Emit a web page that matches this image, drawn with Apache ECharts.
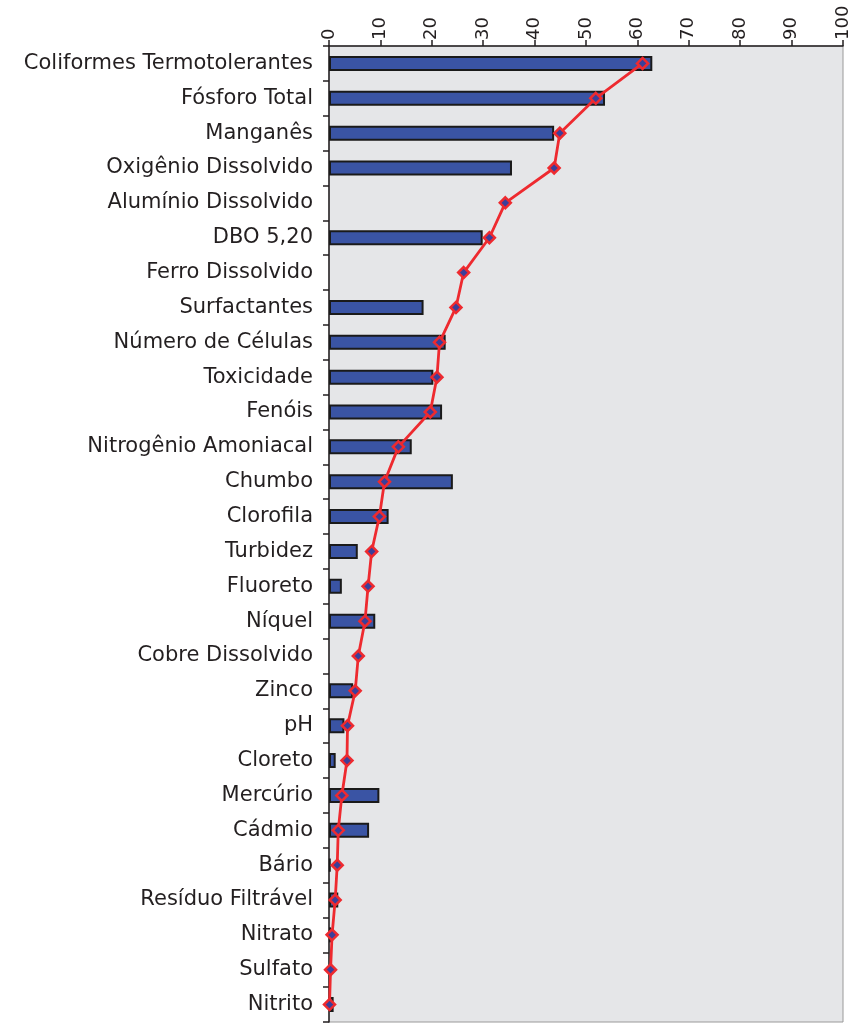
<!DOCTYPE html>
<html>
<head>
<meta charset="utf-8">
<script src="https://cdn.jsdelivr.net/npm/echarts@6/dist/echarts.min.js"></script>
<style>html,body{margin:0;padding:0;background:#fff;}#c{width:859px;height:1023px;}</style>
</head>
<body>
<div id="c"></div>
<script>
const categories = ["Coliformes Termotolerantes","Fósforo Total","Manganês","Oxigênio Dissolvido","Alumínio Dissolvido","DBO 5,20","Ferro Dissolvido","Surfactantes","Número de Células","Toxicidade","Fenóis","Nitrogênio Amoniacal","Chumbo","Clorofila","Turbidez","Fluoreto","Níquel","Cobre Dissolvido","Zinco","pH","Cloreto","Mercúrio","Cádmio","Bário","Resíduo Filtrável","Nitrato","Sulfato","Nitrito"];
const barValues = [62.9,53.7,43.8,35.6,null,29.9,null,18.4,22.7,20.3,22.0,16.1,24.1,11.6,5.6,2.5,9.0,null,4.7,3.0,1.3,9.8,7.8,0.3,1.8,0.4,null,0.9];
const lineValues = [61.0,51.9,44.9,43.8,34.3,31.2,26.2,24.7,21.5,21.0,19.7,13.5,10.8,9.8,8.3,7.6,7.0,5.7,5.1,3.6,3.5,2.5,1.8,1.6,1.2,0.6,0.3,0.1];
const xTicks = {min:0, max:100, interval:10};

const chart = echarts.init(document.getElementById('c'));
chart.setOption({
  animation:false,
  backgroundColor:'#ffffff',
  grid:{left:329,right:16,top:46,bottom:1,show:true,backgroundColor:'#e5e6e8',borderColor:'#9a9a9a',borderWidth:1,containLabel:false},
  xAxis:{type:'value',position:'top',min:xTicks.min,max:xTicks.max,interval:xTicks.interval,
    axisLine:{show:true,lineStyle:{color:'#231f20',width:1.5}},
    axisTick:{show:true,length:6,lineStyle:{color:'#231f20',width:1.5}},
    splitLine:{show:false},
    axisLabel:{rotate:-90,margin:6,color:'#231f20',fontSize:18,fontFamily:'DejaVu Sans'}},
  yAxis:{type:'category',data:categories,inverse:true,
    axisLine:{show:true,lineStyle:{color:'#231f20',width:1.5}},
    axisTick:{show:true,length:6,lineStyle:{color:'#231f20',width:1.5}},
    axisLabel:{margin:16,color:'#231f20',fontSize:21,fontFamily:'DejaVu Sans'}},
  series:[
    {type:'bar',data:barValues,barWidth:15,itemStyle:{color:'#3a54a4',borderColor:'#1a1a1a',borderWidth:2},z:2},
    {type:'line',data:lineValues,symbol:'diamond',symbolSize:11,lineStyle:{color:'#ee2a2f',width:2.8},
     itemStyle:{color:'#3b3f9a',borderColor:'#ee2a2f',borderWidth:2.5},z:3}
  ]
});
</script>
</body>
</html>
